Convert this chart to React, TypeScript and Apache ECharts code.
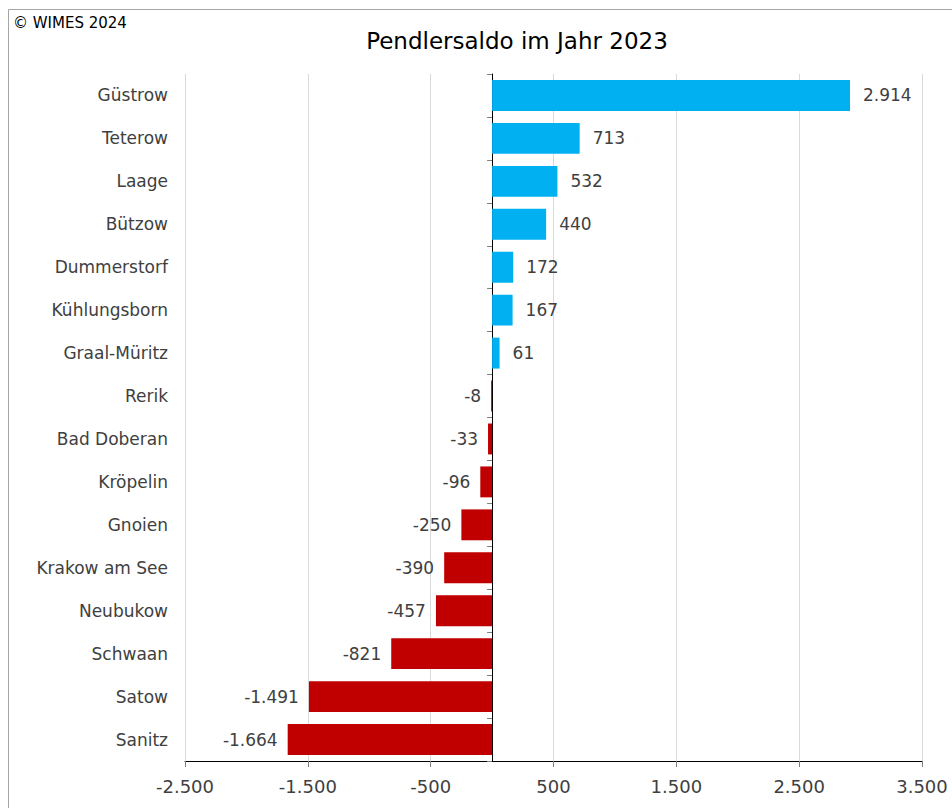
import React, { useEffect, useRef } from "react";
import * as echarts from "echarts";

const categories = [
  "Güstrow", "Teterow", "Laage", "Bützow", "Dummerstorf", "Kühlungsborn",
  "Graal-Müritz", "Rerik", "Bad Doberan", "Kröpelin", "Gnoien",
  "Krakow am See", "Neubukow", "Schwaan", "Satow", "Sanitz",
];
const values = [2914, 713, 532, 440, 172, 167, 61, -8, -33, -96, -250, -390, -457, -821, -1491, -1664];

const xMin = -2500;
const xMax = 3500;
const xInterval = 1000;

const POS_COLOR = "#00B0F0";
const NEG_COLOR = "#C00000";
const TEXT = "#404040";
const FONT = "DejaVu Sans, Verdana, sans-serif";

function fmt(v: number): string {
  const s = String(Math.abs(v)).replace(/\B(?=(\d{3})+(?!\d))/g, ".");
  return (v < 0 ? "-" : "") + s;
}

export default function App() {
  const ref = useRef<HTMLDivElement>(null);
  useEffect(() => {
    if (!ref.current) return;
    const chart = echarts.init(ref.current, undefined, { renderer: "svg" });
    chart.setOption({
      animation: false,
      backgroundColor: "#ffffff",
      textStyle: { fontFamily: FONT },
      title: {
        text: "Pendlersaldo im Jahr 2023",
        left: 512,
        textAlign: "center",
        top: 24,
        textStyle: { fontFamily: FONT, fontSize: 23, fontWeight: "normal", color: "#000000" },
      },
      graphic: [
        {
          type: "rect",
          shape: { x: 8.5, y: 9.5, width: 1000, height: 1000 },
          style: { fill: "none", stroke: "#a6a6a6", lineWidth: 1 },
          silent: true,
        },
        {
          type: "text",
          left: 13,
          top: 15,
          style: { text: "© WIMES 2024", fontFamily: FONT, fontSize: 15, fill: "#000000" },
        },
      ],
      grid: { left: 185, right: 30, top: 74, bottom: 47, containLabel: false },
      xAxis: {
        type: "value",
        min: xMin,
        max: xMax,
        interval: xInterval,
        axisLine: { show: true, lineStyle: { color: "#000000", width: 1 } },
        axisTick: { show: true, length: 6, lineStyle: { color: "#7f7f7f" } },
        axisLabel: {
          color: TEXT,
          fontSize: 18,
          fontFamily: FONT,
          margin: 16,
          formatter: (v: number) => fmt(v),
        },
        splitLine: { show: true, lineStyle: { color: "#d9d9d9", width: 1 } },
      },
      yAxis: [
        {
          type: "category",
          data: categories,
          inverse: true,
          position: "left",
          axisLine: { show: false, onZero: false },
          axisTick: { show: false },
          axisLabel: { color: TEXT, fontSize: 17, fontFamily: FONT, margin: 17 },
          splitLine: { show: false },
        },
        {
          type: "category",
          data: categories,
          inverse: true,
          position: "left",
          axisLine: { show: true, onZero: true, lineStyle: { color: "#000000", width: 1 } },
          axisTick: { show: true, length: 5, lineStyle: { color: "#7f7f7f" } },
          axisLabel: { show: false },
          splitLine: { show: false },
        },
      ],
      series: [
        {
          type: "bar",
          yAxisIndex: 0,
          barCategoryGap: "28%",
          data: values.map((v) => ({
            value: v,
            itemStyle: { color: v >= 0 ? POS_COLOR : NEG_COLOR },
            label: {
              show: true,
              position: v >= 0 ? "right" : "left",
              distance: v >= 0 ? 13 : 10,
              color: TEXT,
              fontSize: 17,
              fontFamily: FONT,
              formatter: () => fmt(v),
            },
          })),
        },
      ],
    });
    return () => chart.dispose();
  }, []);
  return (
    <div
      ref={ref}
      style={{ position: "fixed", left: 0, top: 0, width: 952, height: 808 }}
    />
  );
}
